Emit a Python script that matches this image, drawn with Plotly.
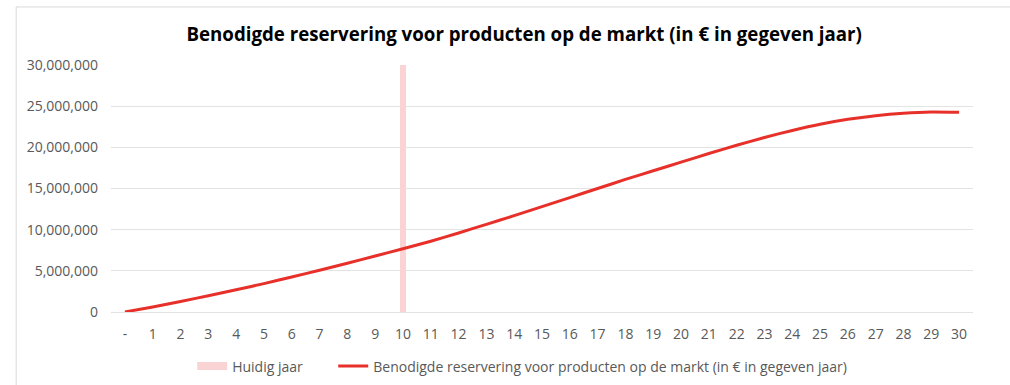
import plotly.graph_objects as go

categories = ["-"] + [str(i) for i in range(1, 31)]
reservering = [0, 0.62, 1.28, 1.98, 2.7, 3.45, 4.25, 5.08, 5.93, 6.8, 7.68,
               8.6, 9.6, 10.65, 11.7, 12.8, 13.9, 15.0, 16.1, 17.15, 18.2,
               19.25, 20.25, 21.2, 22.05, 22.8, 23.4, 23.85, 24.15, 24.3, 24.25]
reservering = [v * 1_000_000 for v in reservering]
huidig_cat = ["10"]
huidig_val = [30_000_000]
y_ticks = [0, 5_000_000, 10_000_000, 15_000_000, 20_000_000, 25_000_000, 30_000_000]

FONT = "Open Sans"
GRAY = "#595959"
PINK = "#fad4d4"

fig = go.Figure()
fig.add_trace(go.Bar(x=huidig_cat, y=huidig_val, name="Huidig jaar", showlegend=False,
                     legendgroup="h",
                     marker=dict(color=PINK, line=dict(width=0)), width=0.22))
# legend-only entry so the swatch is a wide rectangle like the reference
fig.add_trace(go.Scatter(x=[None], y=[None], mode="lines",
                         name="Huidig jaar" + "\u00a0" * 7, legendgroup="h",
                         line=dict(color=PINK, width=8)))
fig.add_trace(go.Scatter(x=categories, y=reservering, mode="lines",
                         name="Benodigde reservering voor producten op de markt (in € in gegeven jaar)",
                         line=dict(color="#e8302a", width=3, shape="spline", smoothing=0.6)))

fig.update_layout(
    width=1010, height=385,
    margin=dict(l=111, r=37, t=65, b=73, autoexpand=False),
    paper_bgcolor="white", plot_bgcolor="white",
    font=dict(family=FONT, size=14, color=GRAY),
    title=dict(text="<b>Benodigde reservering voor producten op de markt (in € in gegeven jaar)</b>",
               x=0.519, xanchor="center", y=0.91, yanchor="middle",
               font=dict(family=FONT, size=18.7, color="#000000")),
    showlegend=True,
    legend=dict(orientation="h", x=0.477, xanchor="center", yref="container", y=0.048, yanchor="middle",
                font=dict(family=FONT, size=14, color=GRAY), traceorder="normal"),
    xaxis=dict(type="category", categoryorder="array", categoryarray=categories,
               tickvals=categories, ticktext=categories, automargin=False,
               showgrid=False, showline=False, ticks="", tickfont=dict(size=14, color=GRAY),
               ticklabelstandoff=12, range=[-0.5, 30.5]),
    yaxis=dict(range=[0, 30_000_000], tickvals=y_ticks, tickformat=",d", automargin=False,
               showgrid=True, gridcolor="#e3e3e3", gridwidth=1,
               zeroline=True, zerolinecolor="#e3e3e3", zerolinewidth=1,
               showline=False, ticks="", ticklabelstandoff=12,
               tickfont=dict(size=14, color=GRAY)),
    shapes=[dict(type="rect", xref="paper", yref="paper",
                 x0=-0.110, x1=1.5, y0=-1.0, y1=1.235,
                 line=dict(color="#d9d9d9", width=1), fillcolor="rgba(0,0,0,0)", layer="below")],
    bargap=0,
)

fig.write_html("out.html")
